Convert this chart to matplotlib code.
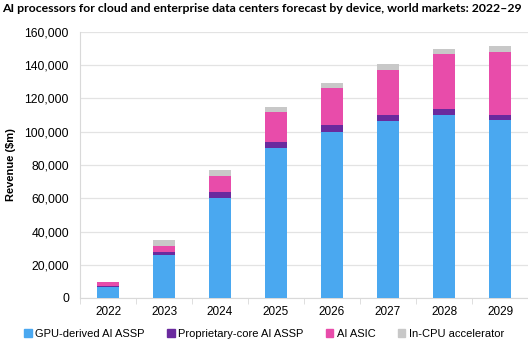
import numpy as np
import matplotlib
matplotlib.use('Agg')
import matplotlib.pyplot as plt
from matplotlib.patches import Patch
from matplotlib.ticker import FuncFormatter

# values ($m)
years = ['2022', '2023', '2024', '2025', '2026', '2027', '2028', '2029']
gpu_assp = [6400, 25600, 60200, 90400, 100000, 106400, 110200, 107000]
prop_assp = [1000, 2000, 3600, 3600, 3800, 3400, 3200, 3000]
ai_asic = [2000, 3400, 9600, 17600, 22600, 27600, 33200, 37800]
in_cpu = [400, 3600, 3800, 3400, 3000, 3200, 3400, 3600]

series_names = ['GPU-derived AI ASSP', 'Proprietary-core AI ASSP', 'AI ASIC', 'In-CPU accelerator']
colors = ['#4aa8f0', '#6a2a9e', '#e84caa', '#c8c8c8']

plt.rcParams['font.family'] = ['Liberation Sans', 'DejaVu Sans']

fig = plt.figure(figsize = (5.28,3.44), dpi = 100)
ax = fig.add_axes([80/528, 1-298/344, 448/528, 266/344])

x = np.arange(len(years))
bottom = np.zeros(len(years))
for vals, col in zip([gpu_assp, prop_assp, ai_asic, in_cpu], colors):
    ax.bar(x, vals, 0.41, bottom = bottom, color = col, zorder = 3)
    bottom += np.array(vals)

ax.set_xlim(-0.5, len(years)-0.5)
ax.set_ylim(0, 160000)
ax.set_yticks(np.arange(0, 160001, 20000))
ax.yaxis.set_major_formatter(FuncFormatter(lambda v, p: f'{int(v):,}'))
ax.set_xticks(x)
ax.set_xticklabels(years)
ax.set_xticks(np.arange(-0.5, len(years), 1), minor = True)
ax.tick_params(axis = 'x', which = 'major', length = 0, labelsize = 8.5, pad = 6)
ax.tick_params(axis = 'x', which = 'minor', length = 4, color = '#d9d9d9')
ax.tick_params(axis = 'y', length = 0, labelsize = 8.7, pad = 8)

ax.grid(axis = 'y', color = '#e3e3e3', linewidth = 0.9, zorder = 0)
for s in ['top', 'right']:
    ax.spines[s].set_visible(False)
ax.spines['left'].set_color('#d9d9d9')
ax.spines['bottom'].set_color('#d9d9d9')

ax.set_ylabel(r'Revenue (\$m)', fontsize = 8, fontweight = 'bold', labelpad = 6)

fig.text(0.003, 0.975, 'AI processors for cloud and enterprise data centers forecast by device, world markets: 2022\u201329',
         fontsize = 8.85, fontweight = 'bold', family = ['Lato', 'DejaVu Sans'], va = 'center', ha = 'left')

handles = [Patch(color = c) for c in colors]
fig.legend(handles, series_names, loc = 'center', bbox_to_anchor = (0.5, 1-334/344), ncol = 4,
           frameon = False, fontsize = 8, handlelength = 0.7, handleheight = 0.7,
           handletextpad = 0.3, columnspacing = 2.0)

fig.savefig('out.png', dpi = 100)
